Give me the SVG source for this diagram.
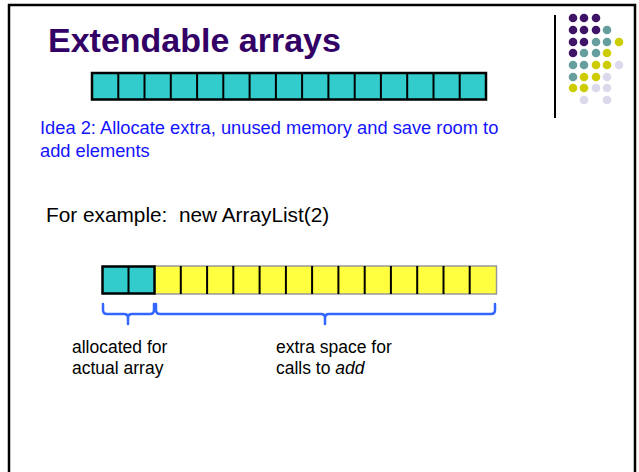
<svg xmlns="http://www.w3.org/2000/svg" width="639" height="472" viewBox="0 0 639 472">
<style>
.t{font-family:"Liberation Sans",Arial,sans-serif}
.cell{stroke:#000;stroke-width:2}
.brace{fill:none;stroke:#3366FF;stroke-width:2.5;stroke-linecap:round;stroke-linejoin:round}
.p{fill:#3F1466}.g{fill:#669E9E}.y{fill:#CCCC00}.l{fill:#DADAEC}
</style>
<rect width="639" height="472" fill="#fff"/>
<g id="frame">
<rect x="9" y="5" width="626" height="480" fill="none" stroke="#000" stroke-width="2.5"/>
<line x1="555" y1="15" x2="555" y2="118" stroke="#000" stroke-width="2"/>
</g>
<g id="dots">
<circle class="p" cx="573" cy="18" r="4.3"/><circle class="p" cx="584" cy="18" r="4.3"/><circle class="p" cx="596" cy="18" r="4.3"/>
<circle class="p" cx="573" cy="30" r="4.3"/><circle class="p" cx="584" cy="30" r="4.3"/><circle class="p" cx="596" cy="30" r="4.3"/><circle class="g" cx="607" cy="30" r="4.3"/>
<circle class="p" cx="573" cy="42" r="4.3"/><circle class="p" cx="584" cy="42" r="4.3"/><circle class="g" cx="596" cy="42" r="4.3"/><circle class="g" cx="607" cy="42" r="4.3"/><circle class="y" cx="619" cy="42" r="4.3"/>
<circle class="p" cx="573" cy="53" r="4.3"/><circle class="g" cx="584" cy="53" r="4.3"/><circle class="g" cx="596" cy="53" r="4.3"/><circle class="y" cx="607" cy="53" r="4.3"/>
<circle class="g" cx="573" cy="65" r="4.3"/><circle class="g" cx="584" cy="65" r="4.3"/><circle class="y" cx="596" cy="65" r="4.3"/><circle class="y" cx="607" cy="65" r="4.3"/><circle class="l" cx="619" cy="65" r="4.3"/>
<circle class="g" cx="573" cy="77" r="4.3"/><circle class="y" cx="584" cy="77" r="4.3"/><circle class="y" cx="596" cy="77" r="4.3"/><circle class="l" cx="607" cy="77" r="4.3"/>
<circle class="y" cx="573" cy="88" r="4.3"/><circle class="y" cx="584" cy="88" r="4.3"/><circle class="l" cx="596" cy="88" r="4.3"/><circle class="l" cx="607" cy="88" r="4.3"/>
<circle class="l" cx="584" cy="100" r="4.3"/><circle class="l" cx="607" cy="100" r="4.3"/>
</g>
<g id="title"><text class="t" x="48" y="52" font-size="34" font-weight="bold" fill="#330066">Extendable arrays</text></g>
<g id="array-top">
<rect x="92" y="73" width="394" height="26.5" fill="#33CCCC" stroke="#000" stroke-width="2.5"/>
<path class="cell" d="M118.3,73V99.5M144.5,73V99.5M170.8,73V99.5M197.1,73V99.5M223.3,73V99.5M249.6,73V99.5M275.9,73V99.5M302.1,73V99.5M328.4,73V99.5M354.7,73V99.5M380.9,73V99.5M407.2,73V99.5M433.5,73V99.5M459.7,73V99.5"/>
</g>
<g id="idea"><text class="t" font-size="18.3" fill="#1414FF"><tspan x="40" y="134">Idea 2: Allocate extra, unused memory and save room to</tspan><tspan x="40" y="157">add elements</tspan></text></g>
<g id="example"><text class="t" x="46" y="222" font-size="20.8" fill="#000" xml:space="preserve">For example:  new ArrayList(2)</text></g>
<g id="array-bottom">
<rect x="154.5" y="266" width="342" height="28" fill="#FFFF40" stroke="#999" stroke-width="1.5"/>
<path class="cell" d="M180.8,266V294M207.1,266V294M233.3,266V294M259.6,266V294M285.9,266V294M312.1,266V294M338.4,266V294M364.7,266V294M390.9,266V294M417.2,266V294M443.5,266V294M469.7,266V294"/>
<rect x="102.5" y="266.5" width="52" height="27" fill="#33CCCC" stroke="#000" stroke-width="2.5"/>
<line x1="128.5" y1="266.5" x2="128.5" y2="293.5" stroke="#000" stroke-width="2"/>
</g>
<g id="connectors">
<path class="brace" d="M103,304V310Q103,314 107,314H124Q128,314 128,318V324M128,318Q128,314 132,314H150Q154,314 154,310V304"/>
<path class="brace" d="M156,304V310Q156,314 160,314H321Q325,314 325,318V324M325,318Q325,314 329,314H491Q495,314 495,310V304"/>
</g>
<g id="labels">
<text class="t" font-size="17.5" fill="#000"><tspan x="72" y="353">allocated for</tspan><tspan x="72" y="374">actual array</tspan></text>
<text class="t" font-size="17.5" fill="#000"><tspan x="276" y="353">extra space for</tspan><tspan x="276" y="374">calls to <tspan font-style="italic">add</tspan></tspan></text>
</g>
</svg>
